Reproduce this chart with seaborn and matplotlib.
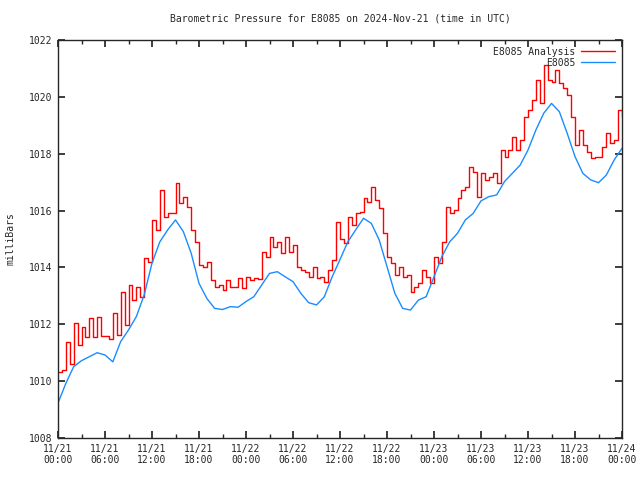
"""
Barometric pressure for station E8085, 21-23 Nov 2024
"""

import pandas as pd
import numpy as np
import matplotlib
matplotlib.use('Agg')
import matplotlib.pyplot as plt
import matplotlib.dates as mdates
import seaborn as sns

# ── Style ──────────────────────────────────────────────────────────────────
sns.set_theme(style='ticks')
plt.rcParams['font.family'] = ['DejaVu Sans Mono']
plt.rcParams.update({'font.size': 7, 'axes.linewidth': 1.0})

# ── Data ───────────────────────────────────────────────────────────────────
start = pd.Timestamp('2024-11-21 00:00')

# station obs, hourly
station_mb = [
    1009.23, 1009.92, 1010.51, 1010.72, 1010.86, 1011.00, 1010.92, 1010.68,
    1011.39, 1011.80, 1012.27, 1013.03, 1014.15, 1014.90, 1015.32, 1015.67,
    1015.26, 1014.50, 1013.44, 1012.91, 1012.56, 1012.52, 1012.62, 1012.60,
    1012.80, 1012.97, 1013.38, 1013.79, 1013.85, 1013.67, 1013.50, 1013.09,
    1012.76, 1012.68, 1012.97, 1013.67, 1014.28, 1014.90, 1015.32, 1015.73,
    1015.55, 1014.97, 1014.03, 1013.09, 1012.56, 1012.50, 1012.85, 1012.97,
    1013.67, 1014.38, 1014.90, 1015.20, 1015.67, 1015.90, 1016.34, 1016.49,
    1016.55, 1017.02, 1017.31, 1017.60, 1018.13, 1018.83, 1019.42, 1019.77,
    1019.48, 1018.72, 1017.90, 1017.31, 1017.08, 1016.98, 1017.25, 1017.78,
    1018.19,
]

# analysis, every 30 min
analysis_mb = [
    1010.33, 1010.40, 1011.39, 1010.60, 1012.03, 1011.27, 1011.92, 1011.56,
    1012.21, 1011.56, 1012.27, 1011.60, 1011.60, 1011.50, 1012.39, 1011.62,
    1013.15, 1011.97, 1013.38, 1012.85, 1013.32, 1012.97, 1014.32, 1014.20,
    1015.67, 1015.32, 1016.72, 1015.79, 1015.90, 1015.90, 1016.96, 1016.25,
    1016.49, 1016.14, 1015.32, 1014.91, 1014.09, 1014.03, 1014.20, 1013.56,
    1013.32, 1013.38, 1013.20, 1013.56, 1013.32, 1013.30, 1013.62, 1013.26,
    1013.67, 1013.56, 1013.62, 1013.58, 1014.55, 1014.36, 1015.08, 1014.73,
    1014.91, 1014.50, 1015.08, 1014.55, 1014.79, 1014.03, 1013.91, 1013.85,
    1013.67, 1014.03, 1013.62, 1013.67, 1013.50, 1013.91, 1014.26, 1015.60,
    1015.00, 1014.85, 1015.79, 1015.49, 1015.90, 1015.96, 1016.43, 1016.31,
    1016.84, 1016.37, 1016.08, 1015.20, 1014.38, 1014.14, 1013.73, 1014.03,
    1013.67, 1013.73, 1013.15, 1013.32, 1013.44, 1013.91, 1013.67, 1013.44,
    1014.38, 1014.14, 1014.91, 1016.14, 1015.90, 1016.02, 1016.43, 1016.72,
    1016.84, 1017.54, 1017.37, 1016.49, 1017.31, 1017.07, 1017.19, 1017.31,
    1016.96, 1018.13, 1017.90, 1018.13, 1018.60, 1018.13, 1018.48, 1019.30,
    1019.54, 1019.89, 1020.59, 1019.77, 1021.12, 1020.59, 1020.53, 1020.94,
    1020.48, 1020.30, 1020.07, 1019.30, 1018.31, 1018.83, 1018.31, 1018.07,
    1017.84, 1017.90, 1017.90, 1018.25, 1018.72, 1018.37, 1018.48, 1019.54,
    1019.30,
]

obs = pd.DataFrame({
    'time': pd.date_range(start, periods=len(station_mb), freq='1h'),
    'mb': station_mb,
})
ana = pd.DataFrame({
    'time': pd.date_range(start, periods=len(analysis_mb), freq='30min'),
    'mb': analysis_mb,
})

# ── Figure ─────────────────────────────────────────────────────────────────
fig = plt.figure(figsize=(6.4, 4.8), dpi=100)
ax = fig.add_axes([58/640, 1 - 438/480, (622 - 58)/640, (438 - 40)/480])

sns.lineplot(data=ana, x='time', y='mb', ax=ax, color='#ff0000', lw=1.0,
             drawstyle='steps-post', label='E8085 Analysis')
sns.lineplot(data=obs, x='time', y='mb', ax=ax, color='#1a8cff', lw=1.0,
             label='E8085')

ax.set_xlim(start, start + pd.Timedelta(hours=72))
ax.set_ylim(1008, 1022)
ax.set_yticks(np.arange(1008, 1023, 2))
ax.xaxis.set_major_locator(mdates.HourLocator(byhour=[0, 6, 12, 18]))
ax.xaxis.set_minor_locator(mdates.HourLocator(byhour=[3, 9, 15, 21]))
ax.xaxis.set_major_formatter(mdates.DateFormatter('%m/%d\n%H:%M'))
ax.tick_params(which='both', direction='in', top=True, right=True,
               labelsize=7, pad=4)
ax.tick_params(which='major', length=5)
ax.tick_params(which='minor', length=3)

ax.set_xlabel('')
ax.set_ylabel('milliBars', fontsize=7, labelpad=10)
ax.set_title('Barometric Pressure for E8085 on 2024-Nov-21 (time in UTC)',
             fontsize=7, pad=13)

ax.legend(loc='upper right', frameon=False, markerfirst=False, fontsize=7,
          handlelength=3.5, handletextpad=0.6, labelspacing=0.1,
          borderaxespad=0.3)

plt.savefig('out.png', dpi=100)
plt.close()
